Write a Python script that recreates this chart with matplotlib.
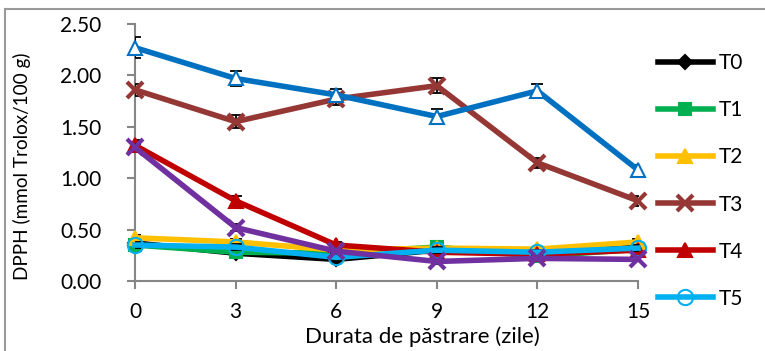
import matplotlib
matplotlib.use("Agg")
import matplotlib.pyplot as plt
from matplotlib.lines import Line2D

days = [0, 3, 6, 9, 12, 15]
y_ticks = [0.0, 0.5, 1.0, 1.5, 2.0, 2.5]

t0 = [0.37, 0.27, 0.21, 0.30, 0.28, 0.33]
t1 = [0.35, 0.28, 0.27, 0.33, 0.24, 0.31]
t2 = [0.42, 0.38, 0.30, 0.32, 0.31, 0.38]
t3 = [1.86, 1.55, 1.77, 1.90, 1.15, 0.78]
t4 = [1.32, 0.78, 0.35, 0.28, 0.26, 0.30]
t5 = [0.35, 0.33, 0.23, 0.30, 0.28, 0.32]
t6 = [1.30, 0.52, 0.29, 0.19, 0.22, 0.21]
t7 = [2.27, 1.97, 1.81, 1.60, 1.85, 1.08]

e0 = [0.03, 0.03, 0.02, 0.03, 0.03, 0.03]
e1 = [0.03, 0.03, 0.02, 0.03, 0.03, 0.03]
e2 = [0.03, 0.03, 0.02, 0.03, 0.02, 0.03]
e3 = [0.06, 0.06, 0.06, 0.07, 0.05, 0.05]
e4 = [0.05, 0.05, 0.03, 0.03, 0.02, 0.03]
e5 = [0.03, 0.03, 0.02, 0.03, 0.02, 0.03]
e6 = [0.03, 0.03, 0.02, 0.02, 0.02, 0.02]
e7 = [0.10, 0.07, 0.06, 0.07, 0.07, 0.05]

names = ["T0", "T1", "T2", "T3", "T4", "T5", "T6", "T7"]

plt.rcParams['font.family'] = ['Lato', 'DejaVu Sans']

fig = plt.figure(figsize=(7.65, 3.51), dpi=100)
ax = fig.add_axes([135/765, 70/351, (638-135)/765, (281-24)/351])

styles = [
    (t0, e0, '#000000', 'D', '#000000', 7),
    (t1, e1, '#00B050', 's', '#00B050', 9),
    (t2, e2, '#FFC000', '^', '#FFC000', 10),
    (t3, e3, '#953735', 'x', '#953735', 12),
    (t4, e4, '#C00000', '^', '#C00000', 10),
    (t5, e5, '#00B0F0', 'o', 'none', 11),
    (t6, e6, '#7030A0', 'x', '#7030A0', 11),
    (t7, e7, '#0070C0', '^', 'white', 10),
]

handles = []
for i, (vals, errs, col, mk, fc, ms) in enumerate(styles):
    ax.errorbar(days, vals, yerr=errs, fmt='none', ecolor='black',
                elinewidth=1.3, capsize=4, capthick=1.3, zorder=2 + i)
    mew = 3 if mk == 'x' else 1.5
    ln, = ax.plot(days, vals, color=col, lw=4, marker=mk, markersize=ms,
                  markerfacecolor=fc, markeredgecolor=col, markeredgewidth=mew,
                  zorder=3 + i, label=names[i], clip_on=False)
    handles.append(ln)

ax.set_xlim(0, 15)
ax.set_ylim(0, 2.5)
ax.set_xticks(days)
ax.set_xticklabels([str(d) for d in days])
ax.set_yticks(y_ticks)
ax.set_yticklabels([f"{v:.2f}" for v in y_ticks])

for s in ['top', 'right']:
    ax.spines[s].set_visible(False)
for s in ['left', 'bottom']:
    ax.spines[s].set_color('#868686')
    ax.spines[s].set_linewidth(1.5)
ax.tick_params(axis='both', direction='out', color='#868686', width=1.5,
               length=6, labelsize=15, colors='black')
ax.tick_params(axis='x', pad=9)
ax.tick_params(axis='y', pad=18)
for t in ax.get_xticklabels() + ax.get_yticklabels():
    t.set_color('black')

ax.set_xlabel("Durata de păstrare (zile)", fontsize=16, va='center')
ax.xaxis.set_label_coords((422 - 135) / 503, (281 - 337) / 257)
ax.set_ylabel("DPPH (mmol Trolox/100 g)", fontsize=13.6, va='center')
ax.yaxis.set_label_coords((22 - 135) / 503, (281 - 166) / 257)

leg = fig.legend(handles=handles[:6], loc='upper left',
                 bbox_to_anchor=(650/765, 1 - 45/351), frameon=False,
                 fontsize=15, handlelength=2.6, labelspacing=1.3,
                 handletextpad=0.3, borderaxespad=0)

# frame of the original chart area (cropped screenshot)
fig.add_artist(Line2D([5/765, 5/765], [0, 1 - 9/351], transform=fig.transFigure,
                      color='#9a9a9a', lw=1.5))
fig.add_artist(Line2D([5/765, 1], [1 - 9/351, 1 - 9/351], transform=fig.transFigure,
                      color='#9a9a9a', lw=1.5))

fig.savefig("out.png", dpi=100)
